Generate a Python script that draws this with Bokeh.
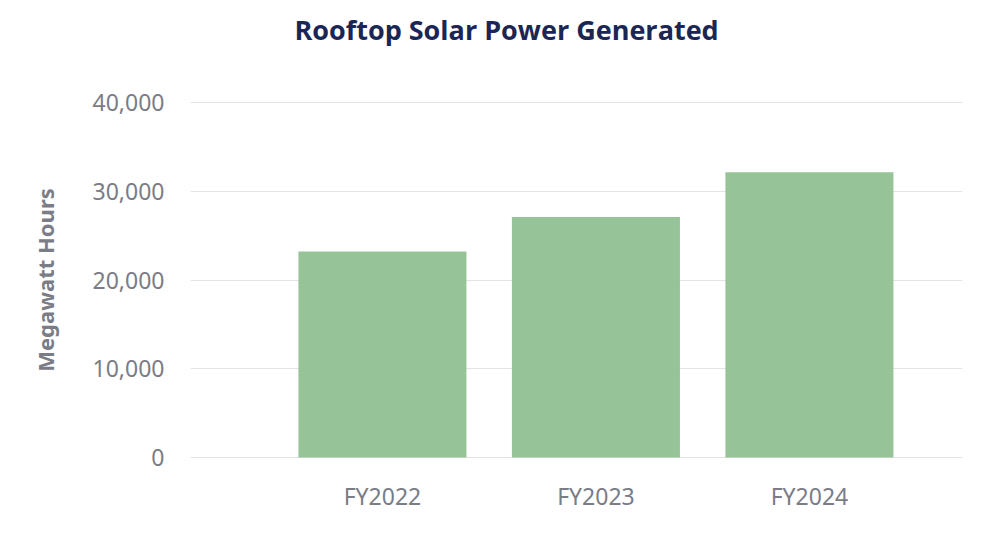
from bokeh.plotting import figure
from bokeh.models import Range1d, FixedTicker, NumeralTickFormatter, ColumnDataSource, Title
from bokeh.embed import file_html
from bokeh.resources import INLINE

categories = ["FY2022", "FY2023", "FY2024"]
values = [23200, 27100, 32150]
y_ticks = [0, 10000, 20000, 30000, 40000]

positions = list(range(len(categories)))
source = ColumnDataSource(dict(x=positions, top=values, label=categories))

p = figure(
    width=984, height=525,
    frame_width=772, frame_height=357,
    min_border_left=190, min_border_right=22, min_border_top=101, min_border_bottom=67,
    output_backend="svg", toolbar_location=None,
    x_range=Range1d(-0.899, 2.717), y_range=Range1d(-113, 40113),
    title="Rooftop Solar Power Generated",
)

# spacer between frame and title
p.add_layout(Title(text=" ", text_font_size="1px", standoff=51), "above")

p.vbar(x="x", top="top", bottom=0, width=0.787, source=source, color="#96c398", line_color=None)

p.title.align = "left"
p.title.offset = 104
p.title.text_font = "Open Sans"
p.title.text_font_size = "27px"
p.title.text_font_style = "bold"
p.title.text_color = "#1c2654"
p.title.standoff = 0

p.outline_line_color = None
p.background_fill_color = "white"
p.border_fill_color = "white"

p.xgrid.grid_line_color = None
p.ygrid.grid_line_color = "#e3e3e3"
p.ygrid.grid_line_width = 1

p.yaxis.ticker = FixedTicker(ticks=y_ticks)
p.yaxis.formatter = NumeralTickFormatter(format="0,0")
p.yaxis.axis_label = "Megawatt Hours"
p.yaxis.axis_label_text_font = "Noto Sans"
p.yaxis.axis_label_text_font_size = "22px"
p.yaxis.axis_label_text_font_style = "bold"
p.yaxis.axis_label_text_color = "#7a7c86"
p.yaxis.axis_label_standoff = 30

p.xaxis.ticker = FixedTicker(ticks=positions)
p.xaxis.major_label_overrides = {i: c for i, c in zip(positions, categories)}

for ax in (p.xaxis, p.yaxis):
    ax.axis_line_color = None
    ax.major_tick_line_color = None
    ax.minor_tick_line_color = None
    ax.major_label_text_font = "Noto Sans"
    ax.major_label_text_color = "#7a7c86"

p.yaxis.major_label_text_font_size = "23px"
p.xaxis.major_label_text_font_size = "23px"
p.yaxis.major_label_standoff = 20
p.xaxis.major_label_standoff = 15

open("out.html", "w").write(file_html(p, INLINE))
